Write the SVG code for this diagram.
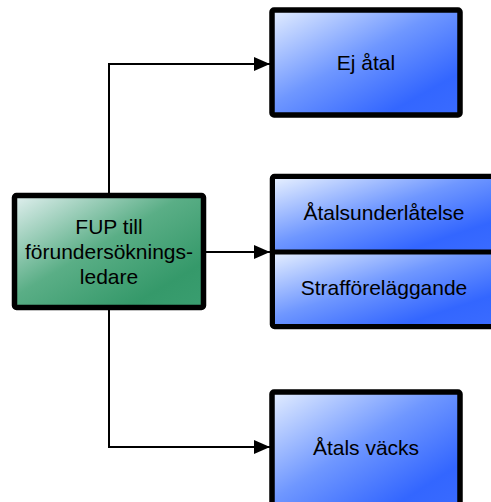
<svg xmlns="http://www.w3.org/2000/svg" width="491" height="502" viewBox="0 0 491 502">
<defs>
<linearGradient id="gBlue" x1="0" y1="0" x2="1" y2="1">
<stop offset="0" stop-color="#e4eeff"/>
<stop offset="0.45" stop-color="#6f97ff"/>
<stop offset="0.8" stop-color="#3366ff"/>
<stop offset="1" stop-color="#3a6bff"/>
</linearGradient>
<linearGradient id="gGreen" x1="0" y1="0" x2="1" y2="1">
<stop offset="0" stop-color="#e2f0f0"/>
<stop offset="0.45" stop-color="#5aae86"/>
<stop offset="0.8" stop-color="#35996a"/>
<stop offset="1" stop-color="#3a9e70"/>
</linearGradient>
<marker id="arr" markerWidth="16" markerHeight="14" refX="16" refY="7" orient="auto" markerUnits="userSpaceOnUse">
<path d="M0,0 L16,7 L0,14 Z" fill="#000"/>
</marker>
<style>
.box{stroke:#000;stroke-width:5.5;}
.t{font-family:"Liberation Sans",Arial,sans-serif;font-size:21px;fill:#000;text-anchor:middle;}
.c{fill:none;stroke:#000;stroke-width:2;}
</style>
</defs>
<g id="connectors">
<path class="c" d="M109,193 V64 H270" marker-end="url(#arr)"/>
<path class="c" d="M206,252 H270" marker-end="url(#arr)"/>
<path class="c" d="M109,310 V447 H270" marker-end="url(#arr)"/>
</g>
<g id="fup">
<rect class="box" x="14.5" y="195.5" width="189" height="112" rx="2" fill="url(#gGreen)"/>
<text class="t" x="109" y="234">FUP till</text>
<text class="t" x="109" y="259">förundersöknings-</text>
<text class="t" x="109" y="284">ledare</text>
</g>
<g id="ej-atal">
<rect class="box" x="272" y="10" width="188" height="105" rx="2" fill="url(#gBlue)"/>
<text class="t" x="366" y="70">Ej åtal</text>
</g>
<g id="mitt">
<rect class="box" x="272.5" y="176.5" width="222" height="150" rx="2" fill="url(#gBlue)"/>
<g id="atalsunderlatelse">
<rect x="275" y="179" width="217" height="72" fill="url(#gBlue)"/>
<text class="t" x="384" y="220">Åtalsunderlåtelse</text>
</g>
<g id="strafforelaggande">
<rect x="275" y="253" width="217" height="71" fill="url(#gBlue)"/>
<text class="t" x="384" y="295">Strafföreläggande</text>
</g>
<line x1="272" y1="252" x2="495" y2="252" stroke="#000" stroke-width="5"/>
</g>
<g id="atal-vacks">
<rect class="box" x="272" y="392" width="188" height="120" rx="2" fill="url(#gBlue)"/>
<text class="t" x="366" y="455">Åtals väcks</text>
</g>
</svg>
